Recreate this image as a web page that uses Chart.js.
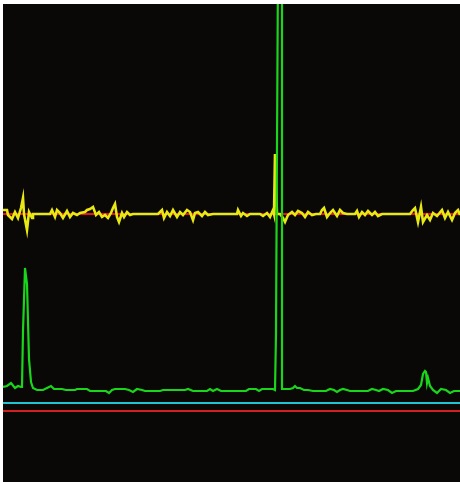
<!DOCTYPE html>
<html>
<head>
<meta charset="utf-8">
<script src="https://cdn.jsdelivr.net/npm/chart.js@4.4.0/dist/chart.umd.min.js"></script>
<style>
  body { margin: 0; background: #ffffff; }
  #wrap { position: absolute; left: 3px; top: 4px; width: 457px; height: 478px; background: #0a0707; }
</style>
</head>
<body>
<div id="wrap"><canvas id="scope" width="457" height="478"></canvas></div>
<script>
// time axis 0..457, level axis 0..478

// green trace
const greenT = [0, 4, 8, 12, 15, 18, 19, 20, 22, 24, 26, 28, 30, 34, 40, 44, 48, 51, 59, 63, 72, 74, 84, 87,
  103, 106, 109, 112, 122, 126, 130, 134, 139, 142, 157, 160, 182, 185, 190, 204, 207, 210, 214, 218,
  243, 246, 253, 256, 259, 270, 272, 273, 275, 279, 279, 287, 290, 292, 294, 297, 301, 305, 310, 323,
  327, 331, 334, 337, 340, 344, 347, 365, 369, 373, 376, 380, 385, 389, 393, 410, 415, 418, 420, 422,
  423, 424, 425, 427, 430, 434, 438, 443, 447, 451, 457];
const greenLevel = [95, 96, 99, 94, 96, 95, 95, 151, 214, 198, 123, 100, 94, 92, 92, 94, 96, 93, 93, 92, 92, 93, 93, 91,
  91, 89, 92, 93, 93, 92, 90, 93, 92, 91, 91, 92, 92, 93, 91, 91, 93, 91, 93, 91,
  91, 93, 93, 91, 93, 93, 92, 149, 520, 520, 93, 93, 94, 96, 94, 94, 92, 92, 91, 91,
  93, 92, 90, 92, 93, 92, 91, 91, 93, 92, 91, 93, 92, 89, 91, 91, 93, 97, 108, 111,
  110, 99, 104, 96, 92, 89, 93, 92, 89, 91, 91];

// yellow trace
const yellowT = [0, 4, 5, 9, 12, 15, 18, 20, 21, 24, 26, 29, 30, 47, 49, 52, 54, 57, 60, 64, 67, 70, 74, 77,
  82, 84, 87, 90, 93, 96, 99, 102, 105, 108, 110, 112, 114, 116, 119, 121, 124, 127, 130, 155, 159, 161,
  164, 167, 170, 174, 177, 180, 184, 187, 190, 192, 195, 199, 202, 205, 210, 234, 235, 238, 240, 244,
  247, 257, 260, 264, 267, 270, 271, 272, 274, 277, 280, 282, 285, 289, 292, 295, 299, 302, 305, 309,
  313, 317, 319, 321, 324, 327, 330, 334, 337, 340, 344, 352, 354, 356, 359, 362, 365, 369, 372, 375,
  379, 407, 410, 412, 415, 418, 420, 424, 427, 430, 434, 439, 442, 445, 449, 452, 455, 457];
const yellowLevel = [272, 272, 267, 263, 270, 264, 274, 284, 268, 252, 270, 264, 268, 268, 272, 265, 272, 269, 264, 271, 265, 269, 267, 269,
  270, 272, 273, 275, 267, 270, 265, 267, 264, 269, 274, 278, 265, 260, 269, 265, 270, 267, 268, 268, 272, 264,
  270, 266, 272, 265, 270, 267, 272, 270, 262, 269, 270, 266, 270, 267, 268, 268, 272, 266, 269, 266,
  268, 268, 266, 269, 265, 272, 268, 328, 268, 268, 264, 260, 267, 270, 267, 271, 269, 265, 270, 267,
  268, 268, 272, 274, 265, 269, 272, 266, 272, 269, 268, 268, 271, 265, 270, 267, 271, 267, 270, 266,
  268, 268, 272, 274, 260, 275, 260, 267, 262, 269, 266, 272, 264, 270, 262, 269, 272, 267];

// flat reference lines
const redT = [0, 457];
const redLevel = [268, 268];
const cyanT = [0, 457];
const cyanLevel = [79, 79];
const lowRedT = [0, 457];
const lowRedLevel = [71, 71];

function points(ts, vs) {
  return ts.map((t, i) => ({ x: t, y: vs[i] }));
}

function trace(ts, vs, color, width) {
  return {
    data: points(ts, vs),
    borderColor: color,
    borderWidth: width,
    pointRadius: 0,
    tension: 0,
    fill: false
  };
}

const ctx = document.getElementById("scope").getContext("2d");
new Chart(ctx, {
  type: "line",
  data: {
    datasets: [
      trace(greenT, greenLevel, "#1ad61a", 2.2),
      trace(yellowT, yellowLevel, "#e8e814", 2.6),
      trace(redT, redLevel, "#e8101a", 2.2),
      trace(cyanT, cyanLevel, "#22c4d4", 2.2),
      trace(lowRedT, lowRedLevel, "#d02020", 2.2)
    ]
  },
  options: {
    responsive: false,
    animation: false,
    devicePixelRatio: 1,
    layout: { padding: 0 },
    scales: {
      x: { type: "linear", min: 0, max: 457, display: false },
      y: { min: 0, max: 478, display: false }
    },
    plugins: { legend: { display: false }, tooltip: { enabled: false } }
  }
});
</script>
</body>
</html>
